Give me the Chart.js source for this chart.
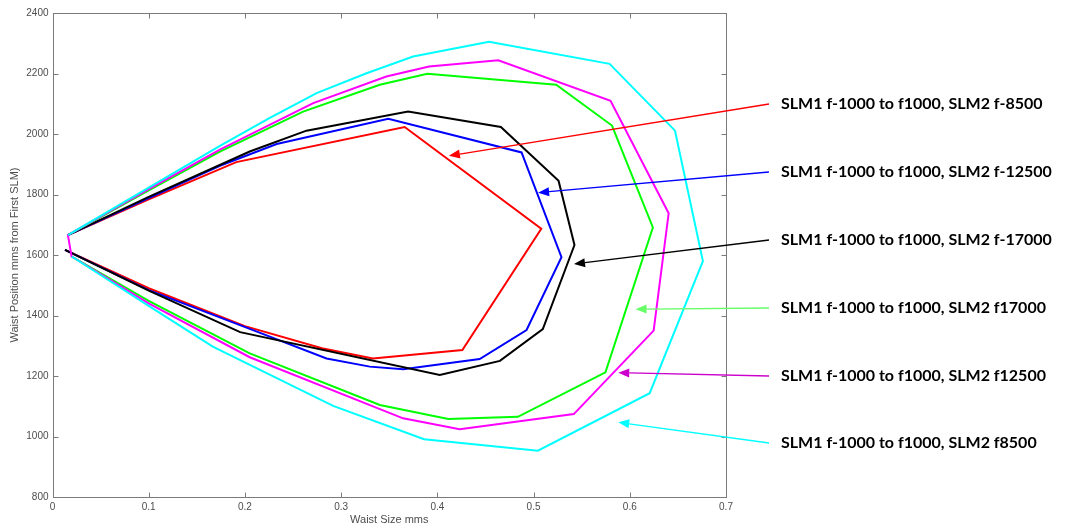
<!DOCTYPE html>
<html>
<head>
<meta charset="utf-8">
<script src="https://cdn.jsdelivr.net/npm/chart.js@4.4.1/dist/chart.umd.min.js"></script>
<style>
  html, body { margin: 0; padding: 0; background: #fff; }
</style>
</head>
<body>
<canvas id="waistChart" width="1077" height="530"></canvas>
<script>
// Waist position vs waist size, six SLM2 focal settings

const seriesNames = [
    'SLM1 f-1000 to f1000, SLM2 f-8500',
    'SLM1 f-1000 to f1000, SLM2 f-12500',
    'SLM1 f-1000 to f1000, SLM2 f-17000',
    'SLM1 f-1000 to f1000, SLM2 f17000',
    'SLM1 f-1000 to f1000, SLM2 f12500',
    'SLM1 f-1000 to f1000, SLM2 f8500'
];

const xTicks = [0, 0.1, 0.2, 0.3, 0.4, 0.5, 0.6, 0.7];
const yTicks = [800, 1000, 1200, 1400, 1600, 1800, 2000, 2200, 2400];

// f-8500 (red)
const redX = [0.016, 0.10, 0.191, 0.366, 0.508, 0.426, 0.333, 0.28, 0.20, 0.10, 0.013];
const redY = [1666, 1784, 1907, 2023, 1687, 1286, 1258, 1292, 1365, 1490, 1617];
// f-12500 (blue)
const blueX = [0.016, 0.10, 0.174, 0.233, 0.349, 0.4875, 0.529, 0.4927, 0.444, 0.3644, 0.3298, 0.2848, 0.205, 0.10, 0.013];
const blueY = [1666, 1788, 1895, 1967, 2050, 1939, 1593, 1352, 1256, 1222, 1231, 1258, 1356, 1484, 1617];
// f-17000 (black)
const blackX = [0.016, 0.10, 0.205, 0.264, 0.3696, 0.466, 0.526, 0.5425, 0.5096, 0.465, 0.4025, 0.195, 0.10, 0.013];
const blackY = [1666, 1792, 1942, 2011, 2074, 2023, 1845, 1633, 1355, 1250, 1203, 1345, 1482, 1617];
// f17000 (green)
const greenX = [0.016, 0.10, 0.174, 0.2605, 0.3402, 0.3896, 0.5235, 0.5815, 0.624, 0.5747, 0.4837, 0.4114, 0.3402, 0.205, 0.10, 0.02];
const greenY = [1666, 1814, 1942, 2074, 2163, 2199, 2163, 2028, 1691, 1212, 1065, 1058, 1104, 1275, 1448, 1595];
// f12500 (magenta)
const magentaX = [0.02, 0.016, 0.10, 0.174, 0.271, 0.347, 0.3914, 0.4633, 0.58, 0.6404, 0.6248, 0.5418, 0.4232, 0.3644, 0.205, 0.10, 0.02];
const magentaY = [1592, 1666, 1818, 1948, 2102, 2190, 2223, 2244, 2110, 1738, 1350, 1074, 1024, 1060, 1262, 1440, 1595];
// f8500 (cyan)
const cyanX = [0.016, 0.10, 0.174, 0.2259, 0.2745, 0.3264, 0.3748, 0.4537, 0.579, 0.647, 0.676, 0.6207, 0.5045, 0.3862, 0.2917, 0.1666, 0.10, 0.02];
const cyanY = [1666, 1823, 1961, 2053, 2135, 2201, 2256, 2305, 2232, 2011, 1580, 1143, 953, 991, 1101, 1297, 1432, 1595];

// where each callout arrow points (data units)
const arrowTipX = [0.412, 0.5047, 0.542, 0.606, 0.588, 0.588];
const arrowTipY = [1928, 1806, 1570, 1421, 1211, 1047];

const lineColors = ['#ff0000', '#0000ff', '#000000', '#00ff00', '#ff00ff', '#00ffff'];
const arrowColors = ['#ff0000', '#0000ff', '#000000', '#66ff66', '#cc00cc', '#00ffff'];
const labelRowY = [104, 172, 240, 308, 376, 443];

const allX = [redX, blueX, blackX, greenX, magentaX, cyanX];
const allY = [redY, blueY, blackY, greenY, magentaY, cyanY];

function toPoints(xs, ys) {
    return xs.map((x, i) => ({ x: x, y: ys[i] }));
}

const axisFont = { family: "'Liberation Sans', Arial, sans-serif", size: 10 };

// MATLAB-style box with inward ticks on all four sides
const boxPlugin = {
    id: 'boxPlugin',
    afterDatasetsDraw(chart) {
        const { ctx, chartArea: a, scales } = chart;
        ctx.save();
        ctx.strokeStyle = '#7a7a7a';
        ctx.lineWidth = 1;
        const L = Math.round(a.left) + 0.5, R = Math.round(a.right) + 0.5;
        const T = Math.round(a.top) + 0.5, B = Math.round(a.bottom) + 0.5;
        ctx.strokeRect(L, T, R - L, B - T);
        ctx.beginPath();
        xTicks.forEach(v => {
            const px = Math.round(scales.x.getPixelForValue(v)) + 0.5;
            ctx.moveTo(px, B); ctx.lineTo(px, B - 5);
            ctx.moveTo(px, T); ctx.lineTo(px, T + 5);
        });
        yTicks.forEach(v => {
            const py = Math.round(scales.y.getPixelForValue(v)) + 0.5;
            ctx.moveTo(L, py); ctx.lineTo(L + 5, py);
            ctx.moveTo(R, py); ctx.lineTo(R - 5, py);
        });
        ctx.stroke();
        ctx.restore();
    },
    afterDraw(chart) {
        const { ctx, scales } = chart;
        ctx.save();
        seriesNames.forEach((name, i) => {
            const sx = 769, sy = labelRowY[i];
            const tx = scales.x.getPixelForValue(arrowTipX[i]);
            const ty = scales.y.getPixelForValue(arrowTipY[i]);
            const ang = Math.atan2(ty - sy, tx - sx);
            const headLen = 11, headHalf = 4.5;
            const bx = tx - headLen * Math.cos(ang), by = ty - headLen * Math.sin(ang);
            ctx.strokeStyle = arrowColors[i];
            ctx.fillStyle = arrowColors[i];
            ctx.lineWidth = 1.3;
            ctx.beginPath();
            ctx.moveTo(sx, sy);
            ctx.lineTo(bx, by);
            ctx.stroke();
            ctx.beginPath();
            ctx.moveTo(tx, ty);
            ctx.lineTo(bx + headHalf * Math.sin(ang), by - headHalf * Math.cos(ang));
            ctx.lineTo(bx - headHalf * Math.sin(ang), by + headHalf * Math.cos(ang));
            ctx.closePath();
            ctx.fill();

            ctx.fillStyle = '#000';
            ctx.font = "bold 16px Lato, 'Open Sans', sans-serif";
            ctx.textAlign = 'left';
            ctx.textBaseline = 'middle';
            ctx.fillText(name, 781, sy);
        });
        ctx.restore();
    }
};

const datasets = seriesNames.map((name, i) => ({
    label: name,
    data: toPoints(allX[i], allY[i]),
    showLine: true,
    borderColor: lineColors[i],
    backgroundColor: lineColors[i],
    borderWidth: 2,
    pointRadius: 0,
    tension: 0,
    order: seriesNames.length - i
}));

new Chart(document.getElementById('waistChart'), {
    type: 'scatter',
    data: { datasets: datasets },
    options: {
        responsive: false,
        animation: false,
        devicePixelRatio: 1,
        layout: { padding: { left: 0, top: 13, right: 351, bottom: 0 } },
        plugins: {
            legend: { display: false },
            tooltip: { enabled: false }
        },
        scales: {
            x: {
                type: 'linear',
                min: 0,
                max: 0.7,
                afterBuildTicks: scale => { scale.ticks = xTicks.map(v => ({ value: v })); },
                afterFit: scale => { scale.height = 33; },
                grid: { display: false, drawTicks: false },
                border: { display: false },
                ticks: {
                    color: '#4d4d4d',
                    font: axisFont,
                    padding: 4,
                    maxRotation: 0,
                    callback: v => String(Math.round(v * 10) / 10)
                },
                title: {
                    display: true,
                    text: 'Waist Size mms',
                    color: '#4d4d4d',
                    font: { family: "'Liberation Sans', Arial, sans-serif", size: 11 },
                    padding: { top: 0, bottom: 3 }
                }
            },
            y: {
                type: 'linear',
                min: 800,
                max: 2400,
                afterBuildTicks: scale => { scale.ticks = yTicks.map(v => ({ value: v })); },
                afterFit: scale => { scale.width = 52.5; },
                grid: { display: false, drawTicks: false },
                border: { display: false },
                ticks: {
                    color: '#4d4d4d',
                    font: axisFont,
                    padding: 4,
                    callback: v => String(v)
                },
                title: {
                    display: true,
                    text: 'Waist Position mms from First SLM)',
                    color: '#4d4d4d',
                    font: { family: "'Liberation Sans', Arial, sans-serif", size: 11 },
                    padding: { top: 8, bottom: 0 }
                }
            }
        }
    },
    plugins: [boxPlugin]
});
</script>
</body>
</html>
